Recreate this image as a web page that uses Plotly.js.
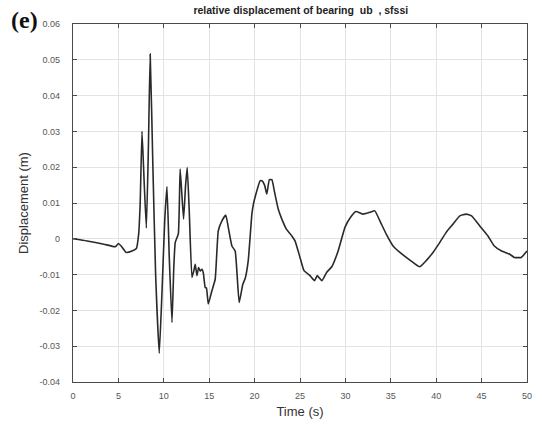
<!DOCTYPE html>
<html>
<head>
<meta charset="utf-8">
<script src="https://cdn.plot.ly/plotly-3.0.1.min.js"></script>
<style>
html,body{margin:0;padding:0;background:#fff;}
#chart{width:542px;height:429px;}
</style>
</head>
<body>
<div id="chart"></div>
<script>
const timeS = [0, 1.55, 3.4, 4.67, 5.0, 5.3, 5.85, 6.5, 6.98, 7.23, 7.4, 7.6, 7.85, 8.08, 8.3, 8.5, 8.8, 9.1, 9.5, 9.8, 10.1, 10.35, 10.6, 10.9, 11.1, 11.26, 11.6, 11.8, 12.0, 12.18, 12.4, 12.58, 12.8, 13.1, 13.3, 13.46, 13.65, 13.83, 14.0, 14.2, 14.35, 14.56, 14.7, 14.9, 15.3, 15.66, 16.0, 16.4, 16.83, 17.1, 17.5, 17.86, 18.3, 18.7, 18.97, 19.3, 19.7, 19.87, 20.2, 20.6, 20.8, 21.1, 21.34, 21.63, 21.9, 22.2, 22.6, 23.0, 23.5, 24.1, 24.45, 25.0, 25.44, 26.1, 26.6, 26.9, 27.4, 27.93, 28.5, 29.2, 29.95, 30.57, 31.15, 31.96, 32.7, 33.24, 33.8, 34.5, 35.25, 36.0, 36.7, 37.45, 38.2, 38.9, 39.65, 40.4, 41.1, 41.85, 42.6, 43.3, 43.9, 44.8, 45.7, 46.4, 47.2, 48.1, 48.6, 49.36, 50];
const displacementM = [0, -0.0006, -0.0015, -0.0022, -0.0013, -0.002, -0.0038, -0.0034, -0.0027, 0.0013, 0.01, 0.030, 0.015, 0.003, 0.025, 0.0516, 0.02, -0.01, -0.032, -0.015, 0.005, 0.0146, -0.005, -0.0234, -0.008, -0.001, 0.0014, 0.0195, 0.012, 0.0055, 0.015, 0.0199, 0.008, -0.0108, -0.009, -0.0071, -0.0103, -0.008, -0.009, -0.0085, -0.0095, -0.0136, -0.0138, -0.0182, -0.0145, -0.0113, 0.0022, 0.005, 0.0066, 0.0032, -0.002, -0.0034, -0.0178, -0.0127, -0.011, -0.0061, 0.0069, 0.0097, 0.013, 0.0162, 0.0162, 0.015, 0.0125, 0.0165, 0.0165, 0.013, 0.0083, 0.0055, 0.0027, 0.0008, -0.0006, -0.0052, -0.0089, -0.0103, -0.0117, -0.0103, -0.0117, -0.0094, -0.0078, -0.0034, 0.0032, 0.006, 0.0076, 0.0069, 0.0074, 0.0078, 0.005, 0.0013, -0.002, -0.0038, -0.0052, -0.0066, -0.0078, -0.0061, -0.0038, -0.001, 0.0018, 0.0041, 0.0064, 0.0069, 0.0064, 0.0036, 0.0008, -0.002, -0.0034, -0.0043, -0.0052, -0.0052, -0.0034];
const xTicks = [0, 5, 10, 15, 20, 25, 30, 35, 40, 45, 50];
const yTicks = [-0.04, -0.03, -0.02, -0.01, 0, 0.01, 0.02, 0.03, 0.04, 0.05, 0.06];
const yTickText = ['-0.04', '-0.03', '-0.02', '-0.01', '0', '0.01', '0.02', '0.03', '0.04', '0.05', '0.06'];

const trace = {
  x: timeS, y: displacementM, type: 'scatter', mode: 'lines',
  line: {color: '#2a2a2a', width: 1.6, shape: 'spline', smoothing: 0.4},
  hoverinfo: 'skip'
};

const axisCommon = {
  showline: true, linecolor: '#4a4a4a', linewidth: 1.2, mirror: 'ticks',
  ticks: 'inside', ticklen: 4, tickcolor: '#4a4a4a', tickwidth: 1,
  showgrid: true, gridcolor: '#e3e3e3', gridwidth: 1, zeroline: false,
  tickfont: {family: 'Liberation Sans, Arial, sans-serif', size: 9, color: '#555'}
};

const layout = {
  width: 542, height: 429,
  margin: {l: 72.5, r: 14.5, t: 23.5, b: 47},
  paper_bgcolor: '#fff', plot_bgcolor: '#fff',
  showlegend: false,
  title: {
    text: '<b>relative displacement of bearing  ub  , sfssi</b>',
    font: {family: 'Liberation Sans, Arial, sans-serif', size: 10.5, color: '#222'},
    x: 0.555, xanchor: 'center', y: 0.975, yanchor: 'middle'
  },
  xaxis: Object.assign({}, axisCommon, {
    range: [0, 50], tickvals: xTicks, ticktext: xTicks.map(String),
    ticklabelstandoff: 5,
    title: {text: 'Time (s)', font: {family: 'Liberation Sans, Arial, sans-serif', size: 13, color: '#333'}, standoff: 6}
  }),
  yaxis: Object.assign({}, axisCommon, {
    range: [-0.04, 0.06], tickvals: yTicks, ticktext: yTickText,
    ticklabelstandoff: 10,
    title: {text: 'Displacement (m)', font: {family: 'Liberation Sans, Arial, sans-serif', size: 13, color: '#333'}, standoff: 8}
  }),
  annotations: [{
    text: '<b>(e)</b>', xref: 'paper', yref: 'paper', x: -0.106, y: 1.01,
    xanchor: 'center', yanchor: 'middle', showarrow: false,
    font: {family: 'Liberation Serif, Times New Roman, serif', size: 24, color: '#111'}
  }]
};

Plotly.newPlot('chart', [trace], layout, {displayModeBar: false, staticPlot: true});
</script>
</body>
</html>
